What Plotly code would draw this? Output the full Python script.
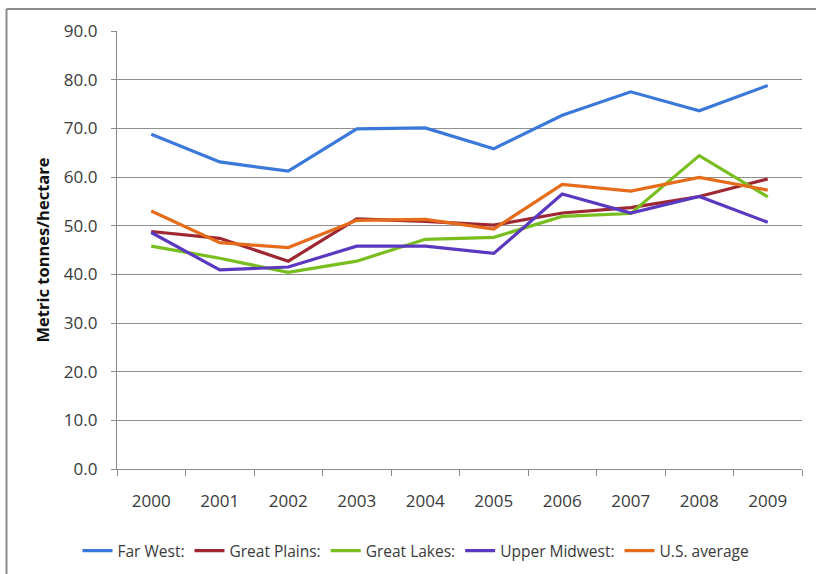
import plotly.graph_objects as go

years = ["2000", "2001", "2002", "2003", "2004", "2005", "2006", "2007", "2008", "2009"]
far_west = [68.8, 63.1, 61.2, 69.9, 70.1, 65.8, 72.7, 77.5, 73.6, 78.8]
great_plains = [48.8, 47.4, 42.7, 51.4, 50.9, 50.1, 52.6, 53.7, 56.0, 59.6]
great_lakes = [45.8, 43.3, 40.4, 42.7, 47.2, 47.6, 51.9, 52.5, 64.4, 55.9]
upper_midwest = [48.6, 40.9, 41.5, 45.8, 45.8, 44.3, 56.5, 52.6, 56.0, 50.7]
us_average = [53.0, 46.5, 45.5, 51.1, 51.3, 49.3, 58.5, 57.1, 59.9, 57.3]

series = [
    ("Far West:", far_west, "#3A78DA"),
    ("Great Plains:", great_plains, "#9E2732"),
    ("Great Lakes:", great_lakes, "#78BE1E"),
    ("Upper Midwest:", upper_midwest, "#5A38C0"),
    ("U.S. average", us_average, "#E46C1B"),
]

fig = go.Figure()
for name, vals, col in series:
    fig.add_trace(go.Scatter(x=years, y=vals, name=name, mode="lines",
                             line=dict(color=col, width=3.2)))

font = dict(family="Open Sans", size=17, color="#3a3a3a")
L, R, T, B = 117, 14, 31, 105
W, H = 816, 574
pw, ph = W - L - R, H - T - B

def px(x):
    return (x - L) / pw

def py(y):
    return (H - B - y) / ph

fig.update_layout(
    width=W, height=H,
    margin=dict(l=L, r=R, t=T, b=B, autoexpand=False),
    paper_bgcolor="white", plot_bgcolor="white",
    font=font,
    showlegend=True,
    legend=dict(orientation="h", xref="paper", yref="paper",
                x=px(416), xanchor="center", y=py(551), yanchor="middle",
                font=dict(family="Open Sans", size=15.5, color="#3a3a3a"),
                itemwidth=30, tracegroupgap=0, bgcolor="rgba(0,0,0,0)"),
    xaxis=dict(type="category", range=[-0.5, 9.5], tickson="boundaries",
               ticks="outside", ticklen=6, tickcolor="#8a8a8a",
               showline=True, linecolor="#8a8a8a", linewidth=1.3,
               showgrid=False, tickfont=font, ticklabelstandoff=16),
    yaxis=dict(range=[0, 90], dtick=10, tickformat=".1f",
               ticks="outside", ticklen=5, tickcolor="#8a8a8a",
               showline=True, linecolor="#8a8a8a", linewidth=1.3,
               showgrid=True, gridcolor="#8f8f8f", gridwidth=1,
               zeroline=False, tickfont=font, ticklabelstandoff=10,
               title=dict(text="Metric tonnes/hectare", standoff=10,
                          font=dict(family="Open Sans", size=16.5, color="#111111", weight="bold"))),
    shapes=[
        dict(type="line", xref="paper", yref="paper", x0=px(6.5), x1=px(6.5), y0=py(9), y1=py(580),
             line=dict(color="#8c8c8c", width=2)),
        dict(type="line", xref="paper", yref="paper", x0=px(6.5), x1=px(820), y0=py(9), y1=py(9),
             line=dict(color="#8c8c8c", width=2)),
    ],
)

fig.write_html("out.html", config={"displayModeBar": False},
               post_script="document.body.style.margin='0px';")
